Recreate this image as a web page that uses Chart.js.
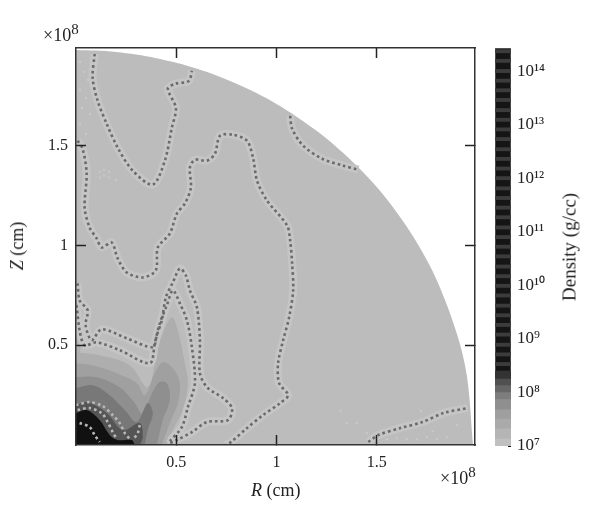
<!DOCTYPE html>
<html>
<head>
<meta charset="utf-8">
<script src="https://cdn.jsdelivr.net/npm/chart.js@4"></script>
<style>
    html, body { margin: 0; padding: 0; background: #fff; }
    #wrap { position: relative; width: 600px; height: 523px; overflow: hidden; font-family: "Liberation Serif", serif; color: #222; }
    canvas { position: absolute; top: 0; }
    .label { position: absolute; font-size: 18px; white-space: nowrap; line-height: 1; }
    .exp { position: absolute; font-size: 18px; white-space: nowrap; line-height: 1; }
    .exp sup { font-size: 15px; line-height: 0; }
    .rot { transform: translate(-50%, -50%) rotate(-90deg); }
</style>
</head>
<body>
<div id="wrap">
    <canvas id="main" style="left:0" width="600" height="523"></canvas>
    <canvas id="bar" style="left:480px" width="120" height="523"></canvas>
    <div class="exp" style="left:43px;top:26px">×10<sup>8</sup></div>
    <div class="exp" style="left:440px;top:469px">×10<sup>8</sup></div>
    <div class="label" style="left:251px;top:481px"><i>R</i> (cm)</div>
    <div class="label rot" style="left:17px;top:246px"><i>Z</i> (cm)</div>
    <div class="label rot" style="font-size:19px;left:569px;top:247px">Density (g/cc)</div>
</div>
<script>
// axis ticks, in units of 1e8 cm
const tickValues = [0.5, 1, 1.5];
const tickLabels = ['0.5', '1', '1.5'];
const axisMax = 1.99;

// filled density regions, [R, Z], walked from the Z axis round to the R axis
const edgeOfGrid = [[0,1.98],[0.1,1.977],[0.2,1.97],[0.3,1.957],[0.4,1.939],[0.5,1.916],[0.6,1.887],[0.7,1.852],[0.8,1.811],[0.9,1.764],[1,1.709],[1.1,1.646],[1.2,1.575],[1.3,1.493],[1.4,1.4],[1.5,1.293],[1.6,1.166],[1.7,1.015],[1.8,0.825],[1.9,0.557],[1.95,0.343],[1.98,0]];
const axisSliver = [[0,0.85],[0.015,0.7],[0.02,0.55],[0.02,0.47],[0,0.44]];
const level1 = [[0,0.465],[0.118,0.45],[0.268,0.4],[0.358,0.29],[0.403,0.46],[0.433,0.56],[0.478,0.64],[0.508,0.575],[0.543,0.41],[0.558,0.31],[0.533,0.175],[0.483,0.075],[0.453,0]];
const level2 = [[0,0.41],[0.083,0.4],[0.203,0.36],[0.303,0.31],[0.343,0.25],[0.393,0.36],[0.433,0.415],[0.483,0.385],[0.518,0.31],[0.508,0.21],[0.468,0.11],[0.428,0]];
const level3 = [[0,0.34],[0.103,0.34],[0.218,0.29],[0.293,0.21],[0.328,0.16],[0.408,0.31],[0.453,0.31],[0.468,0.225],[0.433,0.125],[0.403,0]];
const level4 = [[0,0.285],[0.083,0.3],[0.168,0.25],[0.243,0.175],[0.303,0.115],[0.358,0.21],[0.383,0.16],[0.358,0.075],[0.343,0]];
const level5 = [[0,0.2],[0.058,0.215],[0.153,0.16],[0.233,0.075],[0.318,0.11],[0.333,0.04],[0.318,0]];
const level6 = [[0,0.16],[0.053,0.175],[0.118,0.125],[0.168,0.05],[0.208,0.025],[0.278,0.025],[0.293,0]];
const levelColors = ['#bcbcbc', '#b0b0b0', '#aeaeae', '#a0a0a0', '#8f8f8f', '#787878', '#555555', '#111111'];

// dotted contours, [R, Z]
const contourTop = [[0.093,1.96],[0.083,1.84],[0.108,1.725],[0.153,1.61],[0.208,1.49],[0.283,1.375],[0.383,1.305],[0.443,1.425],[0.478,1.59],[0.498,1.69],[0.458,1.785],[0.493,1.81],[0.563,1.825],[0.578,1.875]];
const contourCorner = [[1.068,1.65],[1.078,1.585],[1.133,1.5],[1.228,1.435],[1.333,1.4],[1.408,1.38]];
const contourMain = [[0.008,1.525],[0.033,1.485],[0.053,1.36],[0.043,1.19],[0.068,1.09],[0.103,1.035],[0.128,0.99],[0.178,1.015],[0.208,0.935],[0.253,0.865],[0.333,0.84],[0.398,0.875],[0.408,0.99],[0.468,1.06],[0.503,1.16],[0.543,1.21],[0.573,1.29],[0.568,1.39],[0.593,1.43],[0.653,1.425],[0.693,1.46],[0.718,1.55],[0.783,1.555],[0.853,1.525],[0.883,1.44],[0.903,1.325],[0.953,1.225],[1.053,1.1],[1.068,1.025],[1.078,0.91],[1.083,0.775],[1.063,0.64],[1.033,0.525],[1.008,0.41],[1.013,0.31],[1.058,0.25],[1.018,0.21],[0.933,0.15],[0.853,0.085],[0.773,0.015],[0.748,0]];
const contourFar = [[1.458,0.015],[1.508,0.05],[1.618,0.085],[1.728,0.115],[1.833,0.16],[1.953,0.185]];
const contourOuter = [[0.008,0.81],[0.018,0.725],[0.058,0.675],[0.048,0.6],[0.078,0.525],[0.128,0.58],[0.253,0.535],[0.383,0.49],[0.403,0.55],[0.428,0.625],[0.448,0.74],[0.483,0.815],[0.518,0.885],[0.548,0.85],[0.568,0.775],[0.603,0.69],[0.618,0.525],[0.618,0.36],[0.653,0.29],[0.733,0.235],[0.778,0.185],[0.758,0.125],[0.653,0.115],[0.578,0.065],[0.503,0.025],[0.458,0.005]];
const contourInner = [[0.003,0.7],[0.018,0.575],[0.043,0.5],[0.103,0.515],[0.218,0.475],[0.368,0.41],[0.393,0.51],[0.418,0.61],[0.453,0.7],[0.483,0.775],[0.518,0.71],[0.553,0.625],[0.578,0.49],[0.593,0.31],[0.558,0.19],[0.528,0.09],[0.468,0.02]];
const coreArc1 = [[0,0.2],[0.068,0.215],[0.133,0.195],[0.183,0.15],[0.218,0.11],[0.243,0.06],[0.268,0.03]];
const coreArc2 = [[0.008,0.175],[0.068,0.185],[0.128,0.16],[0.158,0.115],[0.183,0.065],[0.203,0.03]];
const coreArc3 = [[0.018,0.11],[0.068,0.09],[0.093,0.05],[0.118,0.015]];
const coreArc4 = [[0.318,0.1],[0.308,0.06],[0.283,0.025]];

// pale specks scattered over the grey, [R, Z]
const specks = [[0.02,1.92],[0.04,1.87],[0.06,1.83],[0.02,1.78],[0.05,1.74],[0.03,1.69],[0.07,1.66],[0.02,1.61],[0.05,1.56],[0.12,1.37],[0.12,1.34],[0.14,1.38],[0.14,1.35],[0.165,1.37],[0.165,1.34],[0.2,1.33],[1.4,0.11],[1.45,0.06],[1.5,0.03],[1.55,0.03],[1.6,0.035],[1.65,0.03],[1.7,0.03],[1.75,0.04],[1.8,0.03],[1.85,0.04],[1.32,0.17],[1.35,0.11],[1.72,0.17],[1.78,0.07],[1.9,0.1]];

// colour bar, exponents of the density in g/cc
const colorTickExp = [7, 8, 9, 10, 11, 12, 13, 14];
const colorTickLabels = ['10⁷', '10⁸', '10⁹', '10¹⁰', '10¹¹', '10¹²', '10¹³', '10¹⁴'];
const colorTop = 14.43;
const grayLow = [7, 7.13, 7.32, 7.5, 7.68, 7.87, 8, 8.13, 8.25];
const grayHigh = [7.13, 7.32, 7.5, 7.68, 7.87, 8, 8.13, 8.25, 8.4];
const grayColors = ['#c0c0c0', '#b5b5b5', '#aaaaaa', '#9f9f9f', '#8f8f8f', '#7d7d7d', '#666666', '#505050', '#333333'];
const stripes = [8.53, 8.71, 8.89, 9.08, 9.26, 9.44, 9.62, 9.81, 9.99, 10.17, 10.35, 10.54, 10.72, 10.9, 11.08, 11.27, 11.45, 11.63, 11.81, 12, 12.18, 12.36, 12.54, 12.73, 12.91, 13.09, 13.27, 13.46, 13.64, 13.82, 14, 14.19, 14.37];

const fontFamily = '"Liberation Serif", serif';
const toPoints = (list) => list.map(([x, y]) => ({ x, y }));

// fills each region dataset from its line path, closed through the origin corner
const regionFill = {
    id: 'regionFill',
    beforeDatasetsDraw(chart) {
        const { ctx, chartArea } = chart;
        ctx.save();
        ctx.beginPath();
        ctx.rect(chartArea.left, chartArea.top, chartArea.width, chartArea.height);
        ctx.clip();
        chart.data.datasets.forEach((ds, i) => {
            if (!ds.regionColor) return;
            ctx.beginPath();
            chart.getDatasetMeta(i).dataset.path(ctx);
            ctx.lineTo(chartArea.left, chartArea.bottom);
            ctx.closePath();
            ctx.fillStyle = ds.regionColor;
            ctx.fill();
        });
        ctx.restore();
    }
};

function regionDataset(list, color) {
    return { data: toPoints(list), showLine: true, borderWidth: 0, pointRadius: 0, tension: 0.35, regionColor: color };
}

function dotsDataset(list, color) {
    return {
        data: toPoints(list), showLine: true, pointRadius: 0, tension: 0.3,
        borderColor: color, borderWidth: 2.6, borderDash: [2.6, 3], borderCapStyle: 'butt'
    };
}

function haloDataset(list) {
    return {
        data: toPoints(list), showLine: true, pointRadius: 0, tension: 0.3,
        borderColor: '#c5c5c5', borderWidth: 8
    };
}

const greyContours = [contourTop, contourCorner, contourMain, contourFar, contourOuter, contourInner];
const coreArcs = [coreArc1, coreArc2, coreArc3, coreArc4];
const regions = [edgeOfGrid, axisSliver, level1, level2, level3, level4, level5, level6];

const frame = { color: '#333', width: 1.5, z: 1 };
const tickGrid = { drawOnChartArea: false, tickLength: -10, tickColor: '#222', tickWidth: 1.5, z: 1 };

function linearAxis(position, showLabels, size) {
    const horizontal = position === 'top' || position === 'bottom';
    return {
        type: 'linear', position, min: 0, max: axisMax,
        border: frame, grid: tickGrid,
        afterBuildTicks: (scale) => { scale.ticks = tickValues.map((value) => ({ value })); },
        afterFit: (scale) => { if (horizontal) scale.height = size; else scale.width = size; },
        ticks: {
            display: showLabels, autoSkip: false, maxRotation: 0, padding: 18,
            color: '#222', font: { family: fontFamily, size: 16 },
            callback: (value, index) => tickLabels[index]
        }
    };
}

new Chart(document.getElementById('main'), {
    type: 'scatter',
    data: {
        datasets: [
            ...coreArcs.map((a) => dotsDataset(a, '#b8b8b8')),
            ...greyContours.map((c) => dotsDataset(c, '#6a6a6a')),
            ...greyContours.map(haloDataset),
            { data: toPoints(specks), pointStyle: 'rect', pointRadius: 1.5, pointBackgroundColor: '#c8c8c8', pointBorderWidth: 0 },
            ...regions.map((r, i) => regionDataset(r, levelColors[i]))
        ]
    },
    options: {
        responsive: false,
        animation: false,
        layout: { padding: { top: 48, right: 125, left: 0, bottom: 0 } },
        plugins: { legend: { display: false }, tooltip: { enabled: false } },
        scales: {
            x: linearAxis('bottom', true, 78),
            y: linearAxis('left', true, 76),
            xTop: linearAxis('top', false, 0),
            yRight: linearAxis('right', false, 0)
        }
    },
    plugins: [regionFill]
});

new Chart(document.getElementById('bar'), {
    type: 'bar',
    data: {
        labels: ['Density'],
        datasets: [
            ...stripes.map((s) => ({ data: [[10 ** (s - 0.03), 10 ** (s + 0.03)]], backgroundColor: '#3c3c3c' })),
            ...grayLow.map((low, i) => ({ data: [[10 ** low, 10 ** grayHigh[i]]], backgroundColor: grayColors[i] })),
            { data: [[1e7, 10 ** colorTop]], backgroundColor: '#151515', borderColor: '#666', borderWidth: 1 }
        ]
    },
    options: {
        responsive: false,
        animation: false,
        layout: { padding: { top: 48, left: 15, right: 0, bottom: 77 } },
        plugins: { legend: { display: false }, tooltip: { enabled: false } },
        datasets: { bar: { grouped: false, barPercentage: 1, categoryPercentage: 1 } },
        scales: {
            x: { display: false },
            y: {
                type: 'logarithmic', position: 'right', min: 1e7, max: 10 ** colorTop,
                border: { display: false },
                grid: { drawOnChartArea: false, tickLength: -3, tickColor: '#111', tickWidth: 1 },
                afterBuildTicks: (scale) => { scale.ticks = colorTickExp.map((e) => ({ value: 10 ** e })); },
                afterFit: (scale) => { scale.width = 89; },
                ticks: {
                    autoSkip: false, padding: 9, color: '#222',
                    font: { family: fontFamily, size: 17 },
                    callback: (value, index) => colorTickLabels[index]
                }
            }
        }
    }
});
</script>
</body>
</html>
